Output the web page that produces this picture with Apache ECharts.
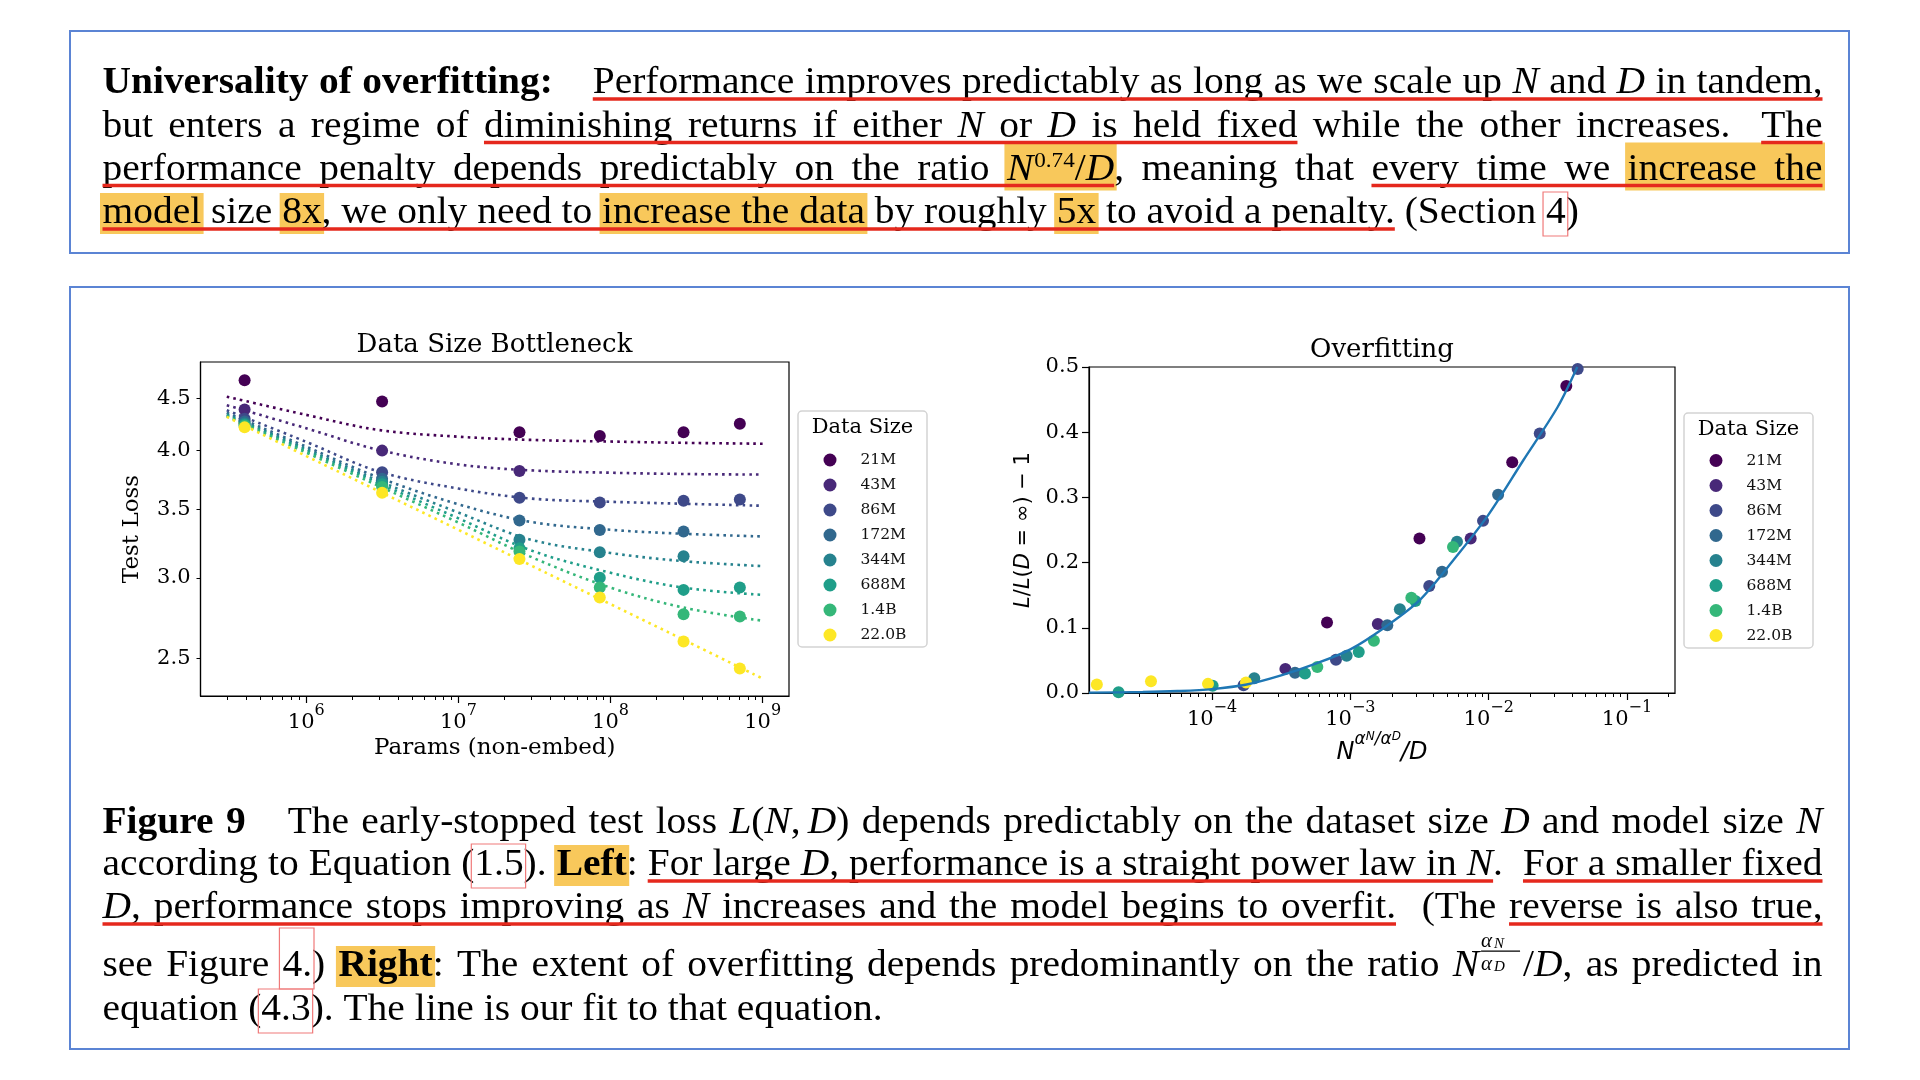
<!DOCTYPE html>
<html><head><meta charset="utf-8">
<script src="https://cdn.jsdelivr.net/npm/echarts@6/dist/echarts.min.js"></script>
<style>html,body{margin:0;padding:0;background:#fff}#main{width:1920px;height:1080px}</style>
</head><body><div id="main"></div>
<script>
// ---------------- DATA ----------------
const dataSizes = ['21M', '43M', '86M', '172M', '344M', '688M', '1.4B', '22.0B'];
const sizeColors = ['#440154', '#482878', '#3e4989', '#31688e', '#26828e', '#1f9e89', '#35b779', '#fde725'];

// Left: Data Size Bottleneck (test loss vs non-embedding params)
const paramSizes = [3.93e5, 3.15e6, 2.52e7, 8.5e7, 3.02e8, 7.08e8];
const loss21M  = [4.69, 4.47, 4.17, 4.135, 4.17, 4.25];
const loss43M  = [4.39, 4.00, 3.82, null, null, null];
const loss86M  = [4.30, 3.81, 3.595, 3.557, 3.571, 3.582];
const loss172M = [4.273, 3.754, 3.415, 3.342, 3.332, null];
const loss344M = [4.254, 3.727, 3.270, 3.178, 3.149, null];
const loss688M = [4.241, 3.707, 3.208, 3.000, 2.919, 2.934];
const loss1p4B = [4.232, 3.685, 3.184, 2.934, 2.763, 2.749];
const loss22B  = [4.216, 3.636, 3.131, 2.869, 2.597, 2.443];

// fitted curves (dotted), read at these param sizes
const fitParams = [3e5, 1e6, 3e6, 1e7, 3e7, 1e8, 3e8, 1e9];
const fit21M  = [4.519, 4.337, 4.191, 4.128, 4.098, 4.083, 4.071, 4.063];
const fit43M  = [4.433, 4.207, 4.006, 3.877, 3.825, 3.805, 3.794, 3.789];
const fit86M  = [4.383, 4.080, 3.815, 3.671, 3.589, 3.563, 3.547, 3.531];
const fit172M = [4.359, 4.036, 3.763, 3.543, 3.404, 3.344, 3.314, 3.294];
const fit344M = [4.343, 4.015, 3.735, 3.477, 3.270, 3.173, 3.115, 3.080];
const fit688M = [4.333, 4.000, 3.715, 3.432, 3.192, 3.034, 2.934, 2.886];
const fit1p4B = [4.324, 3.982, 3.692, 3.399, 3.145, 2.934, 2.805, 2.722];
const fit22B  = [4.318, 3.951, 3.649, 3.344, 3.085, 2.826, 2.609, 2.388];

// Right: Overfitting (x = N^(aN/aD)/D, y = L/L(D=inf) - 1)
const ofX21M = [6.78e-4, 3.16e-3, 1.48e-2, 3.64e-2];
const ofY21M = [0.108, 0.237, 0.354, 0.471];
const ofX43M = [3.39e-4, 1.58e-3, 7.41e-3];
const ofY43M = [0.037, 0.106, 0.237];
const ofX86M = [1.69e-4, 7.87e-4, 3.72e-3, 9.1e-3, 2.34e-2, 4.40e-2];
const ofY86M = [0.012, 0.051, 0.164, 0.264, 0.398, 0.497];
const ofX172M = [3.98e-4, 1.85e-3, 4.6e-3, 1.17e-2];
const ofY172M = [0.031, 0.104, 0.186, 0.304];
const ofX344M = [2.02e-4, 9.4e-4, 2.28e-3, 5.9e-3];
const ofY344M = [0.0225, 0.057, 0.1285, 0.232];
const ofX688M = [2.11e-5, 1.01e-4, 4.7e-4, 1.15e-3, 2.95e-3];
const ofY688M = [0.001, 0.011, 0.030, 0.063, 0.141];
const ofX1p4B = [5.77e-4, 1.48e-3, 2.76e-3, 5.52e-3];
const ofY1p4B = [0.040, 0.080, 0.146, 0.224];
const ofX22B = [1.47e-5, 3.62e-5, 9.35e-5, 1.76e-4];
const ofY22B = [0.013, 0.018, 0.014, 0.016];

const fitRatio  = [1.29e-5, 3.16e-5, 5.62e-5, 1e-4, 1.78e-4, 3.16e-4, 5.62e-4, 1e-3, 1.78e-3, 3.16e-3, 5.62e-3, 1e-2, 1.78e-2, 3.16e-2, 4.37e-2];
const fitExcess = [0.0005, 0.0015, 0.003, 0.006, 0.013, 0.027, 0.045, 0.067, 0.101, 0.142, 0.205, 0.274, 0.357, 0.439, 0.5];

// tick labels
const leftXTicks = [1e6, 1e7, 1e8, 1e9];
const leftYTicks = [2.5, 3.0, 3.5, 4.0, 4.5];
const rightXTicks = [1e-4, 1e-3, 1e-2, 1e-1];
const rightYTicks = [0, 0.1, 0.2, 0.3, 0.4, 0.5];

// ---------------- TEXT ----------------
const T = (t, f) => ({t: t, f: f || ''});
const topLines = [
  [T('Universality of overfitting:', 'b'), {g: 40}, T('Performance improves predictably as long as we scale up ', 'u'), T('N', 'ui'), T(' and ', 'u'), T('D', 'ui'), T(' in tandem,', 'u')],
  [T('but enters a regime of '), T('diminishing returns if either ', 'u'), T('N', 'ui'), T(' or ', 'u'), T('D', 'ui'), T(' is held fixed', 'u'), T(' while the other increases.  '), T('The', 'u')],
  [T('performance penalty depends predictably on the ratio ', 'u'), T('N', 'uih'), {sup: '0.74', f: 'uh'}, T('/', 'uh'), T('D', 'uih'), T(', meaning that '), T('every time we ', 'u'), T('increase the', 'uh')],
  [T('model', 'uh'), T(' size ', 'u'), T('8x', 'uh'), T(', we only need to ', 'u'), T('increase the data', 'uh'), T(' by roughly ', 'u'), T('5x', 'uh'), T(' to avoid a penalty.', 'u'), T(' (Section '), T('4', 'k'), T(')')]
];
const capLines = [
  [T('Figure 9', 'b'), {g: 42}, T('The early-stopped test loss '), T('L', 'i'), T('('), T('N', 'i'), T(','), {g: 7}, T('D', 'i'), T(')'), T(' depends predictably on the dataset size '), T('D', 'i'), T(' and model size '), T('N', 'i')],
  [T('according to Equation ('), T('1.5', 'k'), T('). '), T('Left', 'bh'), T(': '), T('For large ', 'u'), T('D', 'ui'), T(', performance is a straight power law in ', 'u'), T('N', 'ui'), T('.  '), T('For a smaller fixed', 'u')],
  [T('D', 'ui'), T(', performance stops improving as ', 'u'), T('N', 'ui'), T(' increases and the model begins to overfit.', 'u'), T('  (The '), T('reverse is also true,', 'u')],
  [T('see Figure '), T('4.', 'k'), T(') '), T('Right', 'bh'), T(': The extent of overfitting depends predominantly on the ratio '), T('N', 'i'), {frac: true}, T('/'), T('D', 'i'), T(', as predicted in')],
  [T('equation ('), T('4.3', 'k'), T('). The line is our fit to that equation.')]
];

// ---------------- LAYOUT OF TEXT ----------------
const PFONT = 'Liberation Serif';
const FS = 37.5, SX = 1.052, SUPFS = 22;
const X0 = 102.5, X1 = 1822.5;
const mctx = document.createElement('canvas').getContext('2d');
function fstr(f, size) { return (f.includes('i') ? 'italic ' : '') + (f.includes('b') ? 'bold ' : '') + size + 'px "' + PFONT + '"'; }
function mw(text, f, size) { mctx.font = fstr(f, size); return mctx.measureText(text).width * SX; }
const midCache = {};
function midOff(size) {
  if (midCache[size] != null) return midCache[size];
  mctx.font = fstr('', size);
  mctx.textBaseline = 'alphabetic';
  const a = mctx.measureText('H').actualBoundingBoxAscent;
  mctx.textBaseline = 'middle';
  const b = mctx.measureText('H').actualBoundingBoxAscent;
  mctx.textBaseline = 'alphabetic';
  midCache[size] = a - b;
  return a - b;
}
const HL = '#f8c85b', UL = '#e5281d', LINKC = '#f07a7a';
const gEls = [];
function textEl(t, x, baseline, size, f, scale) {
  return {type: 'text', x: x, y: baseline - midOff(size), scaleX: scale == null ? SX : scale, z: 30, silent: true,
    style: {text: t, fontSize: size, fontFamily: PFONT, fontStyle: f.includes('i') ? 'italic' : 'normal',
      fontWeight: f.includes('b') ? 'bold' : 'normal', fill: '#000', align: 'left', verticalAlign: 'middle'}};
}
function layoutLine(segs, baseline, justify, hlTop, boxTop) {
  const toks = [];
  segs.forEach(s => {
    if (s.g) { toks.push({kind: 'gap', f: '', w: s.g}); return; }
    if (s.sup) { toks.push({kind: 'sup', t: s.sup, f: s.f || '', w: mw(s.sup, '', SUPFS) + 1}); return; }
    if (s.frac) { toks.push({kind: 'frac', f: '', w: 44}); return; }
    s.t.split(/( +)/).forEach(p => {
      if (!p) return;
      if (p[0] === ' ') toks.push({kind: 'space', f: s.f, n: p.length, w: mw(' ', s.f, FS) * p.length});
      else toks.push({kind: 'word', t: p, f: s.f, w: mw(p, s.f, FS)});
    });
  });
  if (justify) {
    let nat = 0, ns = 0;
    toks.forEach(t => { nat += t.w; if (t.kind === 'space') ns += t.n; });
    const extra = (X1 - X0 - nat) / ns;
    toks.forEach(t => { if (t.kind === 'space') t.w += extra * t.n; });
  }
  let x = X0;
  toks.forEach(t => { t.x = x; x += t.w; });
  function runs(flag) {
    const out = []; let cur = null;
    toks.forEach(t => {
      if (t.f.includes(flag)) { if (!cur) { cur = []; out.push(cur); } cur.push(t); }
      else cur = null;
    });
    return out.map(r => {
      while (r.length && r[0].kind === 'space') r.shift();
      while (r.length && r[r.length - 1].kind === 'space') r.pop();
      return r;
    }).filter(r => r.length);
  }
  runs('h').forEach(r => {
    const a = r[0].x - 2.5, b = r[r.length - 1].x + r[r.length - 1].w + 2.5;
    gEls.push({type: 'rect', z: 20, silent: true, shape: {x: a, y: baseline - hlTop, width: b - a, height: hlTop + 11}, style: {fill: HL}});
  });
  runs('u').forEach(r => {
    const a = r[0].x, b = r[r.length - 1].x + r[r.length - 1].w;
    gEls.push({type: 'rect', z: 35, silent: true, shape: {x: a, y: baseline + 4.3, width: b - a, height: 3.4}, style: {fill: UL}});
  });
  toks.forEach(t => {
    if (t.f.includes('k')) {
      gEls.push({type: 'rect', z: 36, silent: true, shape: {x: t.x - 3, y: baseline - boxTop, width: t.w + 5, height: boxTop + 13}, style: {fill: 'none', stroke: LINKC, lineWidth: 1.2}});
    }
    if (t.kind === 'word') gEls.push(textEl(t.t, t.x, baseline, FS, t.f));
    else if (t.kind === 'sup') gEls.push(textEl(t.t, t.x + 1, baseline - 13, SUPFS, ''));
    else if (t.kind === 'frac') {
      const fx = t.x + 2;
      gEls.push(textEl('α', fx, baseline - 29, 21, 'i', 1));
      gEls.push(textEl('N', fx + 13, baseline - 28, 15, 'i', 1));
      gEls.push({type: 'rect', z: 30, silent: true, shape: {x: fx, y: baseline - 25.5, width: t.w - 5, height: 1.3}, style: {fill: '#000'}});
      gEls.push(textEl('α', fx, baseline - 6, 21, 'i', 1));
      gEls.push(textEl('D', fx + 13, baseline - 5, 15, 'i', 1));
    }
  });
}
const topBase = [93, 136.5, 179.5, 223];
topLines.forEach((l, i) => layoutLine(l, topBase[i], i < 3, i === 2 ? 37 : 30, 31));
const capBase = [832.7, 875, 918, 976, 1020];
capLines.forEach((l, i) => layoutLine(l, capBase[i], i < 4, 30, i === 3 ? 48 : 31));

// boxes
gEls.push({type: 'rect', z: 10, silent: true, shape: {x: 70, y: 31, width: 1779, height: 222}, style: {fill: 'none', stroke: '#5b84d4', lineWidth: 2}});
gEls.push({type: 'rect', z: 10, silent: true, shape: {x: 70, y: 287, width: 1779, height: 762}, style: {fill: 'none', stroke: '#5b84d4', lineWidth: 2}});
// legend boxes + titles
[[798, 411, 129, 236, 428], [1684, 413, 129, 235, 430]].forEach(b => {
  gEls.push({type: 'rect', z: 1, silent: true, shape: {x: b[0], y: b[1], width: b[2], height: b[3], r: 4}, style: {fill: '#fff', stroke: '#d3d3d3', lineWidth: 1.5}});
  gEls.push({type: 'text', z: 30, silent: true, x: b[0] + b[2] / 2, y: b[4], style: {text: 'Data Size', fontFamily: 'DejaVu Serif', fontSize: 21, fill: '#000', align: 'center', verticalAlign: 'middle'}});
});

// ---------------- CHART ----------------
const lossSeries = [loss21M, loss43M, loss86M, loss172M, loss344M, loss688M, loss1p4B, loss22B];
const fitSeries = [fit21M, fit43M, fit86M, fit172M, fit344M, fit688M, fit1p4B, fit22B];
const ofXs = [ofX21M, ofX43M, ofX86M, ofX172M, ofX344M, ofX688M, ofX1p4B, ofX22B];
const ofYs = [ofY21M, ofY43M, ofY86M, ofY172M, ofY344M, ofY688M, ofY1p4B, ofY22B];

function minorTicks(lo, hi) {
  const out = [];
  for (let k = Math.floor(Math.log10(lo)); k <= Math.ceil(Math.log10(hi)); k++) {
    for (let m = 2; m <= 9; m++) { const v = m * Math.pow(10, k); if (v > lo && v < hi) out.push(v); }
  }
  return out;
}
const LXMIN = 2.016e5, LXMAX = 1.49e9, RXMIN = 1.29e-5, RXMAX = 0.2223;
const SERIF = 'DejaVu Serif';
const expRich = {
  b: {fontFamily: SERIF, fontSize: 21, color: '#000', verticalAlign: 'bottom', lineHeight: 30},
  e: {fontFamily: SERIF, fontSize: 16, color: '#000', verticalAlign: 'top', lineHeight: 18}
};
function expFmt(v) {
  const e = Math.round(Math.log10(v));
  return '{b|10}{e|' + (e < 0 ? '\u2212' + (-e) : e) + '}';
}
const axLine = {show: true, lineStyle: {color: '#000', width: 1.2}};

const series = [];
dataSizes.forEach((name, k) => {
  series.push({type: 'line', name: 'fit ' + name, xAxisIndex: 0, yAxisIndex: 0, silent: true,
    data: fitParams.map((x, i) => [x, fitSeries[k][i]]), showSymbol: false, smooth: 0.35, z: 2,
    lineStyle: {color: sizeColors[k], width: 2.6, type: [2.6, 4.2], cap: 'butt'}});
});
dataSizes.forEach((name, k) => {
  series.push({type: 'scatter', name: name, xAxisIndex: 0, yAxisIndex: 0, symbolSize: 12, z: 3,
    itemStyle: {color: sizeColors[k], opacity: 1},
    data: paramSizes.map((x, i) => lossSeries[k][i] == null ? null : [x, lossSeries[k][i]]).filter(d => d)});
});
dataSizes.forEach((name, k) => {
  series.push({type: 'scatter', name: name, xAxisIndex: 1, yAxisIndex: 1, symbolSize: 12, z: 3,
    itemStyle: {color: sizeColors[k], opacity: 1},
    data: ofXs[k].map((x, i) => [x, ofYs[k][i]])});
});
series.push({type: 'line', name: 'fit', xAxisIndex: 1, yAxisIndex: 1, silent: true, showSymbol: false, smooth: 0.3, z: 5,
  lineStyle: {color: '#1f77b4', width: 2.4}, data: fitRatio.map((x, i) => [x, fitExcess[i]])});

const legendCommon = {orient: 'vertical', icon: 'circle', itemWidth: 13, itemHeight: 13, itemGap: 9.0, padding: 0,
  selectedMode: false, data: dataSizes,
  textStyle: {fontFamily: SERIF, fontSize: 15.5, color: '#111', lineHeight: 13, padding: [0, 0, 0, 19]}};

const option = {
  animation: false,
  backgroundColor: '#fff',
  textStyle: {fontFamily: SERIF},
  title: [
    {text: 'Data Size Bottleneck', left: 494.5, top: 325, textAlign: 'center', padding: 0,
      textStyle: {fontFamily: SERIF, fontSize: 26, fontWeight: 'normal', color: '#000', lineHeight: 40}},
    {text: 'Overfitting', left: 1382, top: 330, textAlign: 'center', padding: 0,
      textStyle: {fontFamily: SERIF, fontSize: 26, fontWeight: 'normal', color: '#000', lineHeight: 40}}
  ],
  legend: [
    Object.assign({left: 823.5, top: 452}, legendCommon),
    Object.assign({left: 1709.5, top: 452.5}, legendCommon)
  ],
  grid: [
    {left: 200.5, top: 362, width: 588.5, height: 334, show: true, borderColor: '#000', borderWidth: 1.2, backgroundColor: 'transparent', containLabel: false},
    {left: 1089, top: 367, width: 586, height: 326, show: true, borderColor: '#000', borderWidth: 1.2, backgroundColor: 'transparent', containLabel: false},
    {left: 200.5, top: 362, width: 588.5, height: 334, show: false},
    {left: 1089, top: 367, width: 586, height: 326, show: false}
  ],
  xAxis: [
    {gridIndex: 0, type: 'log', logBase: 10, min: LXMIN, max: LXMAX, axisLine: axLine, splitLine: {show: false},
      axisTick: {show: true, customValues: leftXTicks, length: 7, lineStyle: {color: '#000', width: 1.2}},
      axisLabel: {customValues: leftXTicks, margin: 7, formatter: expFmt, rich: expRich},
      name: 'Params (non-embed)', nameLocation: 'middle', nameGap: 41,
      nameTextStyle: {fontFamily: SERIF, fontSize: 23, color: '#000'}},
    {gridIndex: 1, type: 'log', logBase: 10, min: RXMIN, max: RXMAX, axisLine: axLine, splitLine: {show: false},
      axisTick: {show: true, customValues: rightXTicks, length: 7, lineStyle: {color: '#000', width: 1.2}},
      axisLabel: {customValues: rightXTicks, margin: 7, formatter: expFmt, rich: expRich},
      name: '{i|N}{s|α}{t|N}{s|/α}{t|D}{i|/D}', nameLocation: 'middle', nameGap: 33,
      nameTextStyle: {rich: {
        i: {fontFamily: 'DejaVu Sans', fontStyle: 'italic', fontSize: 24, color: '#000', verticalAlign: 'bottom', lineHeight: 34},
        s: {fontFamily: 'DejaVu Sans', fontStyle: 'italic', fontSize: 17, color: '#000', verticalAlign: 'top', lineHeight: 18},
        t: {fontFamily: 'DejaVu Sans', fontStyle: 'italic', fontSize: 12, color: '#000', verticalAlign: 'top', lineHeight: 25}
      }}},
    {gridIndex: 2, type: 'log', logBase: 10, min: LXMIN, max: LXMAX, axisLine: {show: false}, splitLine: {show: false},
      axisLabel: {show: false}, axisTick: {show: true, customValues: minorTicks(LXMIN, LXMAX), length: 4, lineStyle: {color: '#000', width: 1}}},
    {gridIndex: 3, type: 'log', logBase: 10, min: RXMIN, max: RXMAX, axisLine: {show: false}, splitLine: {show: false},
      axisLabel: {show: false}, axisTick: {show: true, customValues: minorTicks(RXMIN, RXMAX), length: 4, lineStyle: {color: '#000', width: 1}}}
  ],
  yAxis: [
    {gridIndex: 0, type: 'log', logBase: 10, min: 2.296, max: 4.888, axisLine: axLine, splitLine: {show: false},
      axisTick: {show: true, customValues: leftYTicks, length: 4, lineStyle: {color: '#000', width: 1}},
      axisLabel: {customValues: leftYTicks, margin: 10, formatter: v => Number(v).toFixed(1), fontFamily: SERIF, fontSize: 21, color: '#000'},
      name: 'Test Loss', nameLocation: 'middle', nameGap: 57, nameTextStyle: {fontFamily: SERIF, fontSize: 23, color: '#000'}},
    {gridIndex: 1, type: 'value', min: 0, max: 0.5, interval: 0.1, axisLine: axLine, splitLine: {show: false},
      axisTick: {show: true, length: 7, lineStyle: {color: '#000', width: 1.2}},
      axisLabel: {margin: 10, formatter: v => Number(v).toFixed(1), fontFamily: SERIF, fontSize: 21, color: '#000'},
      name: '{i|L}{r|/}{i|L}{r|(}{i|D}{r| = ∞) − 1}', nameLocation: 'middle', nameGap: 55,
      nameTextStyle: {rich: {
        i: {fontFamily: 'DejaVu Sans', fontStyle: 'italic', fontSize: 21, color: '#000'},
        r: {fontFamily: 'DejaVu Sans', fontSize: 21, color: '#000'}
      }}},
    {gridIndex: 2, type: 'value', show: false},
    {gridIndex: 3, type: 'value', show: false}
  ],
  series: series,
  graphic: {elements: gEls}
};
const chart = echarts.init(document.getElementById('main'), null, {renderer: 'canvas'});
chart.setOption(option);
</script>
</body></html>
